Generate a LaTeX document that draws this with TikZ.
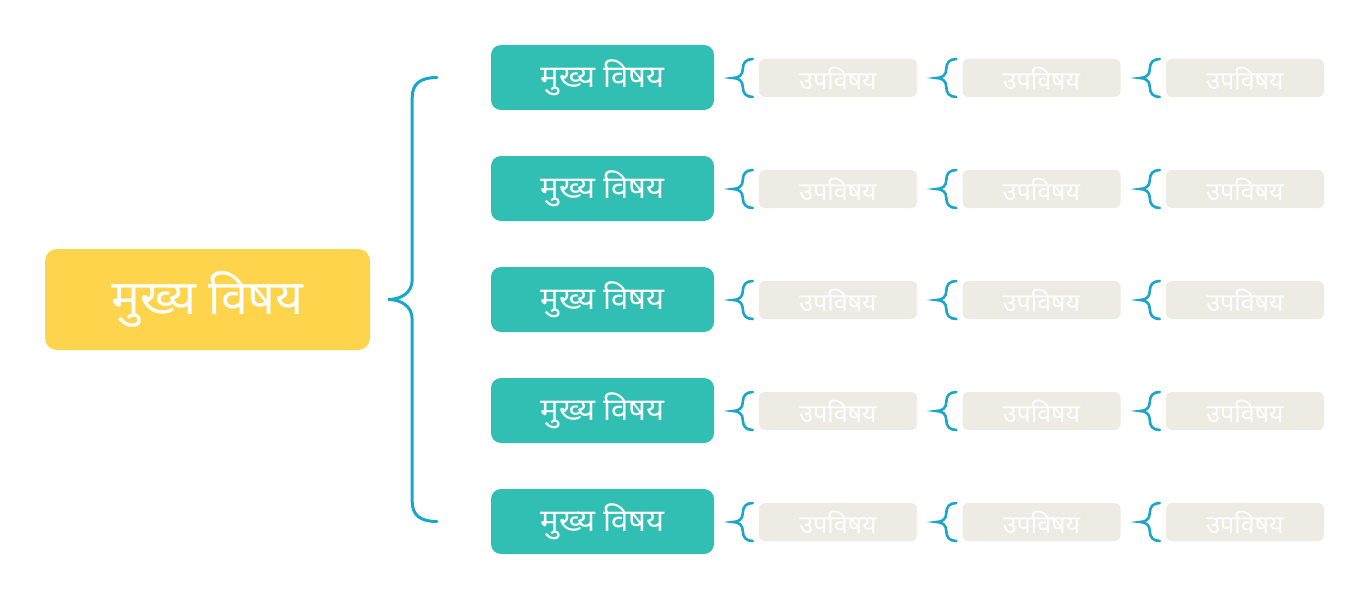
\documentclass[tikz,border=0pt]{standalone}
\usepackage{fontspec}
\newfontfamily\deva[Script=Devanagari]{Noto Sans}
\usetikzlibrary{positioning,calc}
\definecolor{mainyellow}{HTML}{FDD44B}
\definecolor{topicteal}{HTML}{32BFB3}
\definecolor{subbeige}{HTML}{EEEAE4}
\definecolor{bracecyan}{HTML}{1AA6CA}

\begin{document}
\begin{tikzpicture}[x=1pt, y=-1pt,
  main/.style={fill=mainyellow, text=white, rounded corners=12pt,
    minimum width=325pt, minimum height=101pt, font=\deva\fontsize{48}{52}\selectfont},
  topic/.style={fill=topicteal, text=white, rounded corners=10pt,
    minimum width=223pt, minimum height=65pt, font=\deva\fontsize{31}{34}\selectfont},
  sub/.style={fill=subbeige, text=white, rounded corners=6pt,
    minimum width=158pt, minimum height=38pt, font=\deva\fontsize{25}{28}\selectfont},
  bracket/.style={draw=bracecyan, line width=3pt, line cap=round},
  subbrace/.pic={
    \draw [bracket, line width=2.6pt] (-6,-19) .. controls (-13,-19) and (-16,-15) .. (-16,-9)
      .. controls (-16,-3) and (-20,0) .. (-26,0)
      .. controls (-20,0) and (-16,3) .. (-16,9)
      .. controls (-16,15) and (-13,19) .. (-6,19);
  }]
  \useasboundingbox (0,0) rectangle (1370,615);

  % central topic
  \node [main] (main) at (207.5,299.5) {मुख्य विषय};

  % topics and subtopics
  \foreach \i in {1,...,5} {
    \node [topic] (t\i) at (602.5, {77.5+111*(\i-1)}) {मुख्य विषय};
    \foreach \j in {1,2,3} {
      \node [sub] (s\i\j) at ({838+203.5*(\j-1)}, {78+111*(\i-1)}) {उपविषय};
      \pic at (s\i\j.west) {subbrace};
    }
  }

  % big brace
  \coordinate (tip) at ($(main.east)+(18,0)$);
  \coordinate (spine) at ($(tip)+(24,0)$);
  \coordinate (top) at ($(t1.west)+(-54,0)$);
  \coordinate (bot) at ($(t5.west)+(-54,0)$);
  \draw [bracket] (top) .. controls +(-16,0) and +(0,-14) .. ($(spine |- top)+(0,20)$)
    -- ($(spine)+(0,-20)$) .. controls +(0,14) and +(12,0) .. (tip)
    .. controls +(12,0) and +(0,-14) .. ($(spine)+(0,20)$)
    -- ($(spine |- bot)+(0,-20)$) .. controls +(0,14) and +(-16,0) .. (bot);
\end{tikzpicture}
\end{document}
